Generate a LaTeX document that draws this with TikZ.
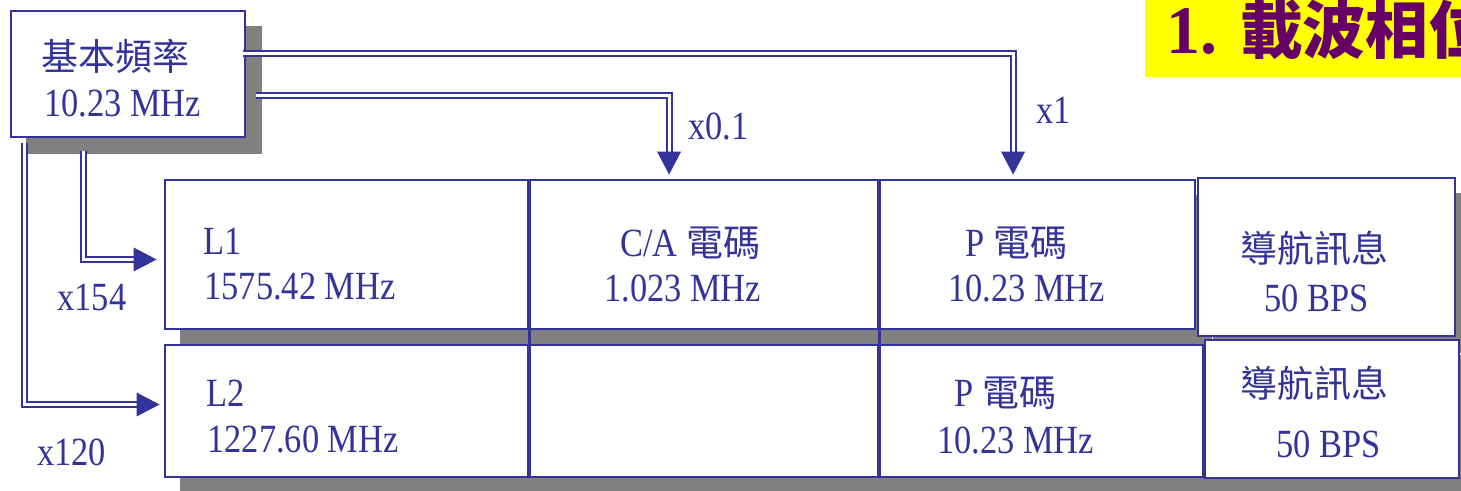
\documentclass[tikz,border=0pt]{standalone}
\usepackage{fontspec}
\setmainfont{Liberation Serif}[FakeStretch=0.86]
\newfontfamily\cjk{Noto Sans CJK TC}[Scale=0.925]
\newfontfamily\ttlfont{Liberation Serif}
\usetikzlibrary{fit,calc}
\pgfdeclarelayer{shadowlayer}
\pgfsetlayers{shadowlayer,main}
\definecolor{lc}{HTML}{333399}
\definecolor{sh}{HTML}{808080}
\definecolor{ttl}{HTML}{660066}
\definecolor{ttlbg}{HTML}{FFFF00}
\tikzset{
  box/.style={draw=lc, line width=1.4pt, fill=white, inner sep=0pt},
  txt/.style={text=lc, font=\fontsize{20pt}{24pt}\selectfont, inner sep=0pt, anchor=base west},
  dbl/.style={draw=lc, line width=1pt, double=white, double distance=1.5pt},
  tipfill/.style={fill=lc},
  divider/.style={draw=lc, line width=1.4pt},
  shadowfill/.style={fill=sh},
}
\begin{document}
\begin{tikzpicture}[x=0.5pt,y=-0.5pt]
\useasboundingbox (0,0) rectangle (1461,491);
\begin{pgfonlayer}{shadowlayer}
\fill[white] (0,0) rectangle (1461,491);
\end{pgfonlayer}
\begin{scope}
\clip (0,0) rectangle (1461,491);
% title
\node[fill=ttlbg, inner sep=0pt, fit={(1145,0)(1480,77)}] (titlebox) {};
\node[anchor=base west, text=ttl, inner sep=0pt, font=\fontsize{34pt}{40pt}\selectfont\ttlfont\bfseries] (title) at (1166,54) {1. {\cjk 載波相位}};

% boxes
\node[box, fit={(11,11)(245,137)}] (base) {};
\node[box, fit={(165,180)(528,329)}] (L1) {};
\node[box, fit={(528,180)(878,329)}] (CA) {};
\node[box, fit={(878,180)(1195,329)}] (P1) {};
\node[box, fit={(1198,178)(1455,336)}] (N1) {};
\node[box, fit={(165,345)(528,477)}] (L2) {};
\node[box, fit={(528,345)(878,477)}] (E2) {};
\node[box, fit={(878,345)(1203,477)}] (P2) {};
\node[box, fit={(1205,340)(1459,478)}] (N2) {};

\begin{pgfonlayer}{shadowlayer}
\foreach \n in {base,L1,CA,P1,N1,L2,E2,P2,N2}
  \fill[shadowfill] ([shift={(16,16)}]\n.north west) rectangle ([shift={(16,16)}]\n.south east);
\end{pgfonlayer}

\draw[divider] (L1.north east) -- (L2.south east);
\draw[divider] (CA.north east) -- (E2.south east);

% texts
\node[txt] (t0a) at (41,71) {\cjk 基本頻率};
\node[txt] (t0b) at (44,117) {10.23 MHz};
\node[txt] (t1a) at (203,255) {L1};
\node[txt] (t1b) at (204,300) {1575.42 MHz};
\node[txt] (t2a) at (620,257) {C/A {\cjk 電碼}};
\node[txt] (t2b) at (604,302) {1.023 MHz};
\node[txt] (t3a) at (965,257) {P {\cjk 電碼}};
\node[txt] (t3b) at (948,302) {10.23 MHz};
\node[txt] (t4a) at (1240,263) {\cjk 導航訊息};
\node[txt] (t4b) at (1264,312) {50 BPS};
\node[txt] (t5a) at (206,407) {L2};
\node[txt] (t5b) at (207,452) {1227.60 MHz};
\node[txt] (t6a) at (954,407) {P {\cjk 電碼}};
\node[txt] (t6b) at (937,453) {10.23 MHz};
\node[txt] (t7a) at (1240,398) {\cjk 導航訊息};
\node[txt] (t7b) at (1276,458) {50 BPS};

% labels
\node[txt] (lx01) at (688,140) {x0.1};
\node[txt] (lx1) at (1036,124) {x1};
\node[txt] (lx154) at (57,311) {x154};
\node[txt] (lx120) at (37,466) {x120};

% connectors
\coordinate (a1) at ($(base.north east)+(-3,43.5)$);
\coordinate (a1e) at ($(P1.north west)+(136.5,-27)$);
\draw[dbl] (a1) -| (a1e);
\fill[tipfill] ($(a1e)+(-12,0)$) -- ($(a1e)+(12,0)$) -- ($(a1e)+(0,23)$) -- cycle;

\coordinate (a2) at ($(base.north east)+(10,85.5)$);
\coordinate (a2e) at ($(CA.north west)+(142.5,-27)$);
\draw[dbl] (a2) -| (a2e);
\fill[tipfill] ($(a2e)+(-12,0)$) -- ($(a2e)+(12,0)$) -- ($(a2e)+(0,23)$) -- cycle;

\coordinate (a3) at ($(base.south west)+(73.5,13)$);
\coordinate (a3e) at ($(L1.west)+(-30,5)$);
\draw[dbl] (a3) |- (a3e);
\fill[tipfill] ($(a3e)+(0,-12)$) -- ($(a3e)+(0,12)$) -- ($(a3e)+(23,0)$) -- cycle;

\coordinate (a4) at ($(base.south west)+(14.5,5)$);
\coordinate (a4e) at ($(L2.west)+(-27,-6.5)$);
\draw[dbl] (a4) |- (a4e);
\fill[tipfill] ($(a4e)+(0,-12)$) -- ($(a4e)+(0,12)$) -- ($(a4e)+(23,0)$) -- cycle;
\end{scope}
\end{tikzpicture}
\end{document}
